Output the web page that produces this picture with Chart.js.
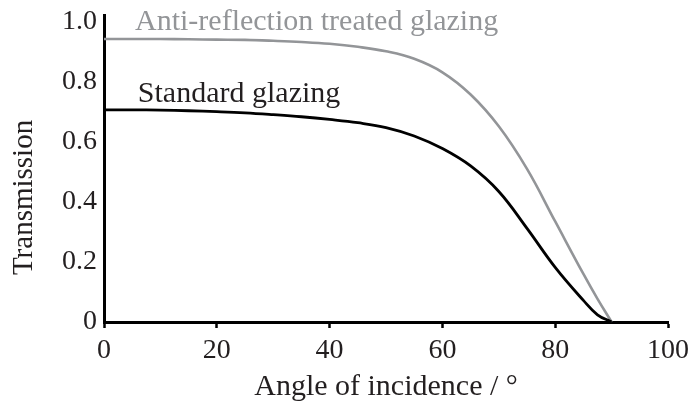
<!DOCTYPE html>
<html>
<head>
<meta charset="utf-8">
<script src="https://cdn.jsdelivr.net/npm/chart.js@4/dist/chart.umd.min.js"></script>
<style>
  html, body { margin: 0; padding: 0; background: #ffffff; }
  #wrap { width: 696px; height: 404px; position: relative; }
</style>
</head>
<body>
<div id="wrap"><canvas id="c" width="696" height="404"></canvas></div>
<script>
// ---- data ----
const angles = [0, 5, 10, 15, 20, 25, 30, 35, 40, 45, 50, 55, 60, 65, 70, 75, 80, 85, 87.5, 90];
const standardGlazing = [0.707, 0.707, 0.706, 0.704, 0.701, 0.697, 0.691, 0.684, 0.675, 0.664, 0.648, 0.620, 0.578, 0.520, 0.435, 0.312, 0.182, 0.072, 0.024, 0];
const antiReflection  = [0.943, 0.943, 0.943, 0.942, 0.941, 0.940, 0.937, 0.933, 0.927, 0.917, 0.902, 0.877, 0.832, 0.758, 0.652, 0.510, 0.335, 0.160, 0.077, 0];
const xTickValues = [0, 20, 40, 60, 80, 100];
const yTickLabels = ['0', '0.2', '0.4', '0.6', '0.8', '1.0'];
const seriesNames = ['Standard glazing', 'Anti-reflection treated glazing'];
const xTitle = 'Angle of incidence / °';
const yTitle = 'Transmission';

const GRAY = '#939598';
const INK = '#231f20';
const FONT = "'Liberation Serif', 'Times New Roman', serif";

const toPoints = (xs, ys) => xs.map((x, i) => ({ x: x, y: ys[i] }));

// series labels and the y-axis title, drawn as text
const labelPlugin = {
  id: 'seriesLabels',
  afterDatasetsDraw(chart, args, opts) {
    const ctx = chart.ctx;
    const xs = chart.scales.x, ys = chart.scales.y;
    ctx.save();
    ctx.font = opts.font;
    ctx.textAlign = 'left';
    ctx.textBaseline = 'alphabetic';
    opts.items.forEach(it => {
      ctx.fillStyle = it.color;
      ctx.fillText(it.text, xs.getPixelForValue(it.x), ys.getPixelForValue(it.y));
    });
    // y-axis title
    ctx.font = opts.titleFont;
    ctx.fillStyle = INK;
    ctx.textAlign = 'center';
    ctx.textBaseline = 'middle';
    ctx.translate(opts.titleX, ys.getPixelForValue(opts.titleAt));
    ctx.rotate(-Math.PI / 2);
    ctx.fillText(opts.titleText, 0, 0);
    ctx.restore();
  }
};

new Chart(document.getElementById('c'), {
  type: 'line',
  data: {
    datasets: [
      {
        label: seriesNames[0],
        data: toPoints(angles, standardGlazing),
        borderColor: '#000000',
        borderWidth: 2.8,
        pointRadius: 0,
        tension: 0.4,
        clip: false
      },
      {
        label: seriesNames[1],
        data: toPoints(angles, antiReflection),
        borderColor: GRAY,
        borderWidth: 2.6,
        pointRadius: 0,
        tension: 0.4,
        clip: false
      }
    ]
  },
  options: {
    responsive: false,
    animation: false,
    devicePixelRatio: 1,
    layout: { padding: { top: 15, right: 28, bottom: 0, left: 0 } },
    plugins: {
      legend: { display: false },
      tooltip: { enabled: false },
      seriesLabels: {
        font: "30px " + FONT,
        titleFont: "29px " + FONT,
        titleText: yTitle,
        titleX: 24,
        titleAt: 0.415,
        items: [
          { text: seriesNames[1], x: 5.5, y: 0.973, color: GRAY },
          { text: seriesNames[0], x: 6.0, y: 0.734, color: INK }
        ]
      }
    },
    scales: {
      x: {
        type: 'linear',
        min: 0,
        max: 100,
        afterFit(scale) { scale.height = 82; scale.paddingLeft = 0; scale.paddingRight = 0; },
        afterBuildTicks(scale) { scale.ticks = xTickValues.map(v => ({ value: v })); },
        border: { display: true, color: '#000000', width: 3 },
        grid: { display: true, drawOnChartArea: false, drawTicks: true, tickLength: 6, tickColor: '#000000', tickWidth: 2.5 },
        ticks: {
          autoSkip: false, maxRotation: 0, padding: 6,
          color: INK,
          font: { family: FONT, size: 28 },
          callback: v => String(v)
        },
        title: {
          display: true, text: xTitle, color: INK,
          font: { family: FONT, size: 30, lineHeight: 1.1 },
          padding: { top: 0, bottom: 0 }
        }
      },
      y: {
        type: 'linear',
        min: 0,
        max: 1.023,
        afterFit(scale) { scale.width = 104; scale.paddingTop = 0; scale.paddingBottom = 0; },
        afterBuildTicks(scale) { scale.ticks = yTickLabels.map((t, i) => ({ value: i * 0.2 })); },
        border: { display: true, color: '#000000', width: 3 },
        grid: { display: false, drawTicks: false },
        ticks: {
          padding: 7,
          color: INK,
          font: { family: FONT, size: 28 },
          callback: (v, i) => yTickLabels[i]
        },
        title: { display: false }
      }
    }
  },
  plugins: [labelPlugin]
});
</script>
</body>
</html>
